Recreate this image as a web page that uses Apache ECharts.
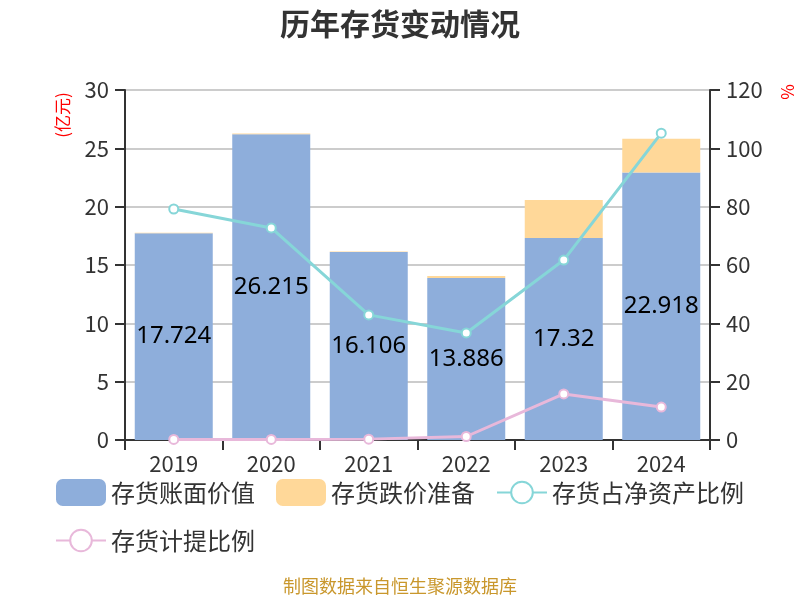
<!DOCTYPE html>
<html>
<head>
<meta charset="utf-8">
<script src="https://cdn.jsdelivr.net/npm/echarts@6/dist/echarts.min.js"></script>
<style>html,body{margin:0;padding:0;background:#fff;}#main{width:800px;height:600px;}</style>
</head>
<body>
<div id="main"></div>
<script>
const categories = ['2019', '2020', '2021', '2022', '2023', '2024'];
const bookValue = [17.724, 26.215, 16.106, 13.886, 17.32, 22.918];
const provision = [0.04, 0.05, 0.05, 0.17, 3.25, 2.9];
const ratioNetAsset = [79.2, 72.7, 42.9, 36.7, 61.7, 105.2];
const provisionRatio = [0.2, 0.2, 0.3, 1.2, 15.8, 11.3];

const FONT = 'Noto Sans CJK SC';
const chart = echarts.init(document.getElementById('main'));
const axisLabelStyle = {fontSize: 22, color: '#333', fontFamily: FONT};
chart.setOption({
  animation: false,
  title: {
    text: '历年存货变动情况', left: 'center', top: 4,
    textStyle: {fontSize: 30, fontWeight: 'bold', color: '#333', fontFamily: FONT}
  },
  grid: {left: 125, right: 90, top: 90, bottom: 160},
  legend: {
    left: 50, top: 474, width: 720,
    itemWidth: 50, itemHeight: 27, itemGap: 21,
    textStyle: {fontSize: 24, lineHeight: 26, color: '#333', fontFamily: FONT},
    data: ['存货账面价值', '存货跌价准备', '存货占净资产比例', '存货计提比例']
  },
  xAxis: {
    type: 'category', data: categories,
    axisLine: {lineStyle: {color: '#333', width: 2}},
    axisTick: {show: true, length: 10, lineStyle: {width: 2, color: '#333'}},
    axisLabel: Object.assign({margin: 13}, axisLabelStyle)
  },
  yAxis: [
    {
      type: 'value', min: 0, max: 30, interval: 5,
      axisLine: {show: true, lineStyle: {color: '#333', width: 2}},
      axisTick: {show: true, length: 10, lineStyle: {width: 2, color: '#333'}},
      axisLabel: Object.assign({margin: 16}, axisLabelStyle),
      splitLine: {lineStyle: {color: '#ccc', width: 2}}
    },
    {
      type: 'value', min: 0, max: 120, interval: 20,
      axisLine: {show: true, lineStyle: {color: '#333', width: 2}},
      axisTick: {show: true, length: 10, lineStyle: {width: 2, color: '#333'}},
      axisLabel: Object.assign({margin: 16}, axisLabelStyle),
      splitLine: {show: false}
    }
  ],
  series: [
    {
      name: '存货账面价值', type: 'bar', stack: 'inv', data: bookValue, barWidth: '80%',
      itemStyle: {color: '#8eaedb'},
      label: {show: true, position: 'inside', fontSize: 24, color: '#000', fontFamily: 'Noto Sans'}
    },
    {
      name: '存货跌价准备', type: 'bar', stack: 'inv', data: provision,
      itemStyle: {color: '#ffd899'}
    },
    {
      name: '存货占净资产比例', type: 'line', yAxisIndex: 1, data: ratioNetAsset,
      symbol: 'circle', symbolSize: 9,
      lineStyle: {color: '#86d6d8', width: 3},
      itemStyle: {color: '#fff', borderColor: '#86d6d8', borderWidth: 2}
    },
    {
      name: '存货计提比例', type: 'line', yAxisIndex: 1, data: provisionRatio,
      symbol: 'circle', symbolSize: 9,
      lineStyle: {color: '#e8b8da', width: 3},
      itemStyle: {color: '#fff', borderColor: '#e8b8da', borderWidth: 2}
    }
  ],
  graphic: [
    {
      type: 'text', x: 63, y: 115, rotation: Math.PI / 2,
      style: {text: '(亿元)', fontSize: 17, fill: '#ff0000', fontFamily: FONT, align: 'center', verticalAlign: 'middle'}
    },
    {
      type: 'text', x: 788, y: 92, rotation: Math.PI / 2,
      style: {text: '%', fontSize: 17, fill: '#ff0000', fontFamily: FONT, align: 'center', verticalAlign: 'middle'}
    },
    {
      type: 'text', left: 'center', top: 577,
      style: {text: '制图数据来自恒生聚源数据库', fontSize: 18, fill: '#c9972c', fontFamily: FONT}
    }
  ]
});
</script>
</body>
</html>
